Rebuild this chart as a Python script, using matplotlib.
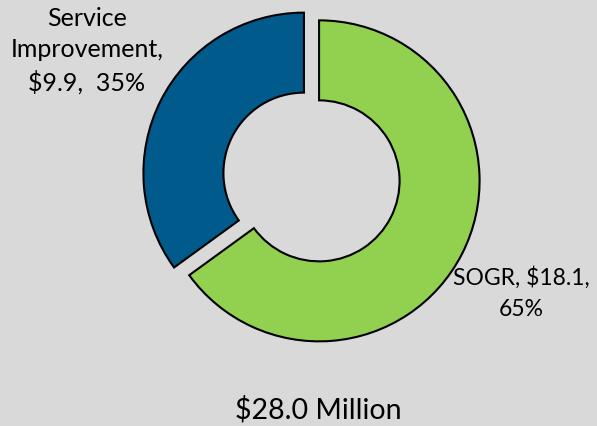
import matplotlib
matplotlib.use("Agg")
import matplotlib.pyplot as plt

# data
categories = ["SOGR", "Service Improvement"]
amounts = [18.1, 9.9]          # $ million
shares = [65, 35]              # percent
total_label = "$28.0 Million"

colors = ["#92D050", "#005A8C"]
bg = "#D9D9D9"

plt.rcParams['font.family'] = ['Lato', 'DejaVu Sans']

W, H = 597, 426
fig = plt.figure(figsize=(W / 100, H / 100), dpi=100, facecolor=bg)
ax = fig.add_axes([0, 0, 1, 1])
ax.set_facecolor(bg)

# pie drawn in pixel units (y flipped, so counterclockwise here is clockwise on screen)
R = 160.5
ax.pie(shares, colors=colors, startangle=-90, counterclock=True,
       center=(311.5, 177), radius=R, explode=[8.5, 8.5],
       wedgeprops=dict(width=80, edgecolor='black', linewidth=1.5),
       frame=True)
ax.set_xlim(0, W)
ax.set_ylim(H, 0)
ax.set_aspect('equal')
ax.axis('off')

ax.text(87, 51, "Service\nImprovement,\n$%.1f,  %d%%" % (amounts[1], shares[1]),
        ha='center', va='center', fontsize=18, linespacing=1.43, color='black')
ax.text(521, 293, "%s, $%.1f,\n%d%%" % (categories[0], amounts[0], shares[0]),
        ha='center', va='center', fontsize=16.5, linespacing=1.55, color='black')
ax.text(318, 410, total_label, ha='center', va='center', fontsize=20.5, color='black')

fig.savefig("out.png", dpi=100, facecolor=bg)
